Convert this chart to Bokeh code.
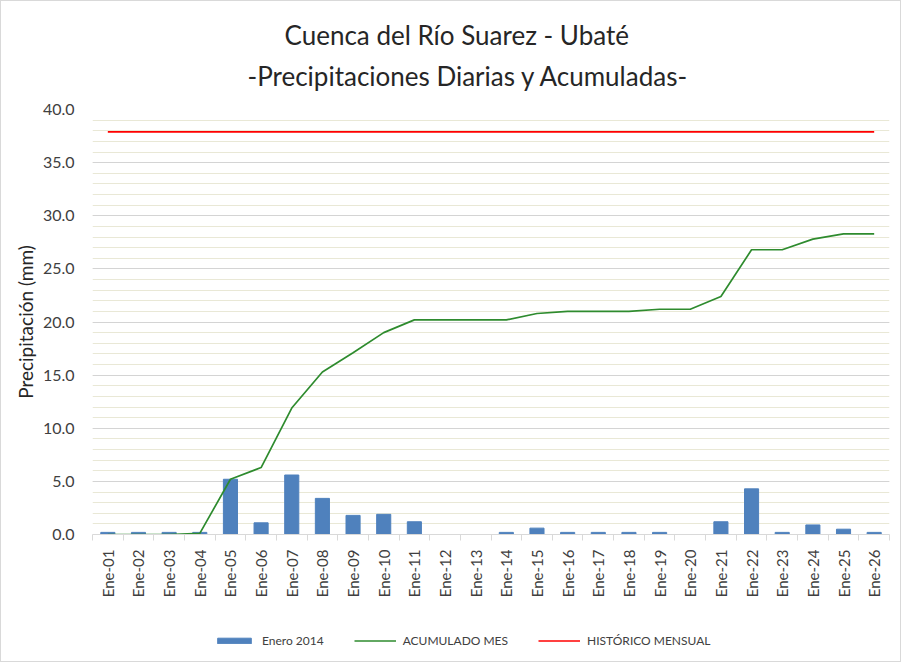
from bokeh.plotting import figure
from bokeh.layouts import column
from bokeh.models import (ColumnDataSource, FixedTicker, Range1d, Title, Legend, LegendItem,
                          SingleIntervalTicker, NumeralTickFormatter)
from bokeh.embed import file_html
from bokeh.resources import INLINE
import math

dias = ["Ene-01", "Ene-02", "Ene-03", "Ene-04", "Ene-05", "Ene-06", "Ene-07", "Ene-08",
        "Ene-09", "Ene-10", "Ene-11", "Ene-12", "Ene-13", "Ene-14", "Ene-15", "Ene-16",
        "Ene-17", "Ene-18", "Ene-19", "Ene-20", "Ene-21", "Ene-22", "Ene-23", "Ene-24",
        "Ene-25", "Ene-26"]
diaria = [0.2, 0.2, 0.2, 0.2, 5.2, 1.1, 5.6, 3.4, 1.8, 1.9, 1.2, 0.0, 0.0, 0.2, 0.6, 0.2,
          0.2, 0.2, 0.2, 0.0, 1.2, 4.3, 0.2, 0.9, 0.5, 0.2]
acumulado = [0.0, 0.0, 0.0, 0.1, 5.2, 6.3, 11.9, 15.3, 17.1, 19.0, 20.2, 20.2, 20.2, 20.2,
             20.8, 21.0, 21.0, 21.0, 21.2, 21.2, 22.4, 26.8, 26.8, 27.8, 28.3, 28.3]
historico = [37.9] * len(dias)
serie_nombres = ["Enero 2014", "ACUMULADO MES", "HISTÓRICO MENSUAL"]

FONT = "Lato"
C_BAR, C_ACU, C_HIS = "#4F81BD", "#2E8B2E", "#FF0000"
xs = list(range(1, len(dias) + 1))
src = ColumnDataSource(dict(x=xs, d=diaria, a=acumulado, h=historico))

p = figure(width=899, height=620, output_backend="svg", toolbar_location=None,
           x_range=Range1d(0.5, len(dias) + 0.5), y_range=Range1d(0, 40),
           min_border_left=91, min_border_right=11, min_border_top=108, min_border_bottom=87)
p.outline_line_color = None
p.background_fill_color = "white"
p.border_fill_color = "white"

spacer = Title(text=" ", text_font_size="1px", standoff=8)
t2 = Title(text="-Precipitaciones Diarias y Acumuladas-", align="left", offset=155,
           text_font=FONT, text_font_size="26px", text_font_style="normal", text_color="#262626",
           standoff=14, text_line_height=1.0)
t1 = Title(text="Cuenca del Río Suarez - Ubaté", align="left", offset=192,
           text_font=FONT, text_font_size="26px", text_font_style="normal", text_color="#262626",
           standoff=0, text_line_height=1.0)
p.add_layout(spacer, "above")
p.add_layout(t2, "above")
p.add_layout(t1, "above")

p.vbar(x="x", top="d", width=0.46, source=src, color=C_BAR)
p.line(x="x", y="a", source=src, line_color=C_ACU, line_width=1.7)
p.line(x="x", y="h", source=src, line_color=C_HIS, line_width=1.7)

# x axis
p.xaxis.ticker = FixedTicker(ticks=xs, minor_ticks=[i + 0.5 for i in range(0, len(dias) + 1)])
p.xaxis.major_label_overrides = {i: d for i, d in zip(xs, dias)}
p.xaxis.major_label_orientation = math.pi / 2
p.xaxis.major_tick_line_color = None
p.xaxis.minor_tick_out = 6
p.xaxis.minor_tick_in = 0
p.xaxis.minor_tick_line_color = "#d9d9d9"
p.xaxis.axis_line_color = "#d9d9d9"
p.xaxis.major_label_text_font = FONT
p.xaxis.major_label_text_font_size = "15px"
p.xaxis.major_label_text_color = "#404040"
p.xaxis.major_label_standoff = 9

# y axis
p.yaxis.ticker = SingleIntervalTicker(interval=5, num_minor_ticks=5)
p.yaxis.formatter = NumeralTickFormatter(format="0.0")
p.yaxis.axis_line_color = None
p.yaxis.major_tick_line_color = None
p.yaxis.minor_tick_line_color = None
p.yaxis.major_label_text_font = FONT
p.yaxis.major_label_text_font_size = "16px"
p.yaxis.major_label_text_color = "#404040"
p.yaxis.major_label_standoff = 12
p.yaxis.axis_label = "Precipitación (mm)"
p.yaxis.axis_label_text_font = FONT
p.yaxis.axis_label_text_font_size = "19px"
p.yaxis.axis_label_text_font_style = "normal"
p.yaxis.axis_label_text_color = "#262626"
p.yaxis.axis_label_standoff = 3

p.xgrid.grid_line_color = None
p.ygrid.grid_line_color = "#d4d4d4"
p.ygrid.minor_grid_line_color = "#e9e8d6"

# legend strip below the chart; its renderers are hidden and only provide swatches
lf = figure(width=899, height=40, output_backend="svg", toolbar_location=None,
            x_range=Range1d(0, 1), y_range=Range1d(0, 1),
            min_border_left=0, min_border_right=0, min_border_top=0, min_border_bottom=0)
lf.axis.visible = False
lf.grid.visible = False
lf.outline_line_color = None
lf.border_fill_color = "white"
lb = lf.vbar(x="x", top="d", width=0.46, source=src, color=C_BAR, visible=False)
la = lf.line(x="x", y="a", source=src, line_color=C_ACU, line_width=1.7, visible=False)
lh = lf.line(x="x", y="h", source=src, line_color=C_HIS, line_width=1.7, visible=False)
legend = Legend(items=[LegendItem(label=serie_nombres[0], renderers=[lb]),
                       LegendItem(label=serie_nombres[1], renderers=[la]),
                       LegendItem(label=serie_nombres[2], renderers=[lh])],
                orientation="horizontal", location=(121, 13),
                label_text_font=FONT, label_text_font_size="12px", label_text_color="#404040",
                glyph_width=42, glyph_height=7, spacing=30, label_standoff=7,
                inactive_fill_alpha=0,
                border_line_color=None, background_fill_alpha=0, padding=4, margin=0)
lf.add_layout(legend, "center")

layout = column(p, lf, spacing=0, styles={"border": "1px solid #d9d9d9"})
open("out.html", "w").write(file_html(layout, INLINE))
